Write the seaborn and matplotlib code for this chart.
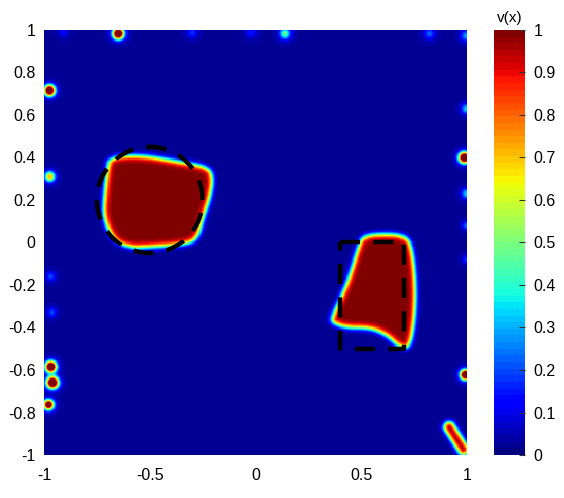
import numpy as np
import matplotlib
matplotlib.use("Agg")
import matplotlib.pyplot as plt
from matplotlib.path import Path
import seaborn as sns

# blob outlines (data coords)
blob1_x = [-0.688, -0.546, -0.357, -0.229, -0.201, -0.215, -0.248, -0.277,
           -0.357, -0.499, -0.593, -0.674, -0.721, -0.712, -0.702]
blob1_y = [0.402, 0.412, 0.379, 0.355, 0.308, 0.214, 0.120, 0.012,
           -0.012, -0.021, -0.026, 0.012, 0.120, 0.247, 0.341]
blob2_x = [0.508, 0.574, 0.716, 0.745, 0.759, 0.754, 0.730, 0.683,
           0.622, 0.541, 0.433, 0.366, 0.362, 0.400, 0.447, 0.485]
blob2_y = [0.026, 0.040, 0.035, -0.049, -0.209, -0.365, -0.496, -0.492,
           -0.435, -0.402, -0.402, -0.379, -0.351, -0.271, -0.162, -0.035]

# small spots near the border: x, y, size, peak
spot_x = [-0.65, 0.14, -0.30, -0.02, 0.825, 1.00, -0.91,
          -0.970, -0.962, -0.981, 0.995, 0.99, 1.00, 1.00, 1.00, 1.00,
          -0.976, -0.975, -0.97, -0.965]
spot_y = [0.985, 0.985, 0.99, 0.99, 0.985, 0.975, 0.99,
          -0.586, -0.661, -0.765, -0.624, 0.40, 0.63, 0.23, 0.08, -0.08,
          0.717, 0.31, -0.16, -0.33]
spot_r = [0.026, 0.026, 0.025, 0.025, 0.026, 0.026, 0.022,
          0.026, 0.028, 0.024, 0.024, 0.026, 0.024, 0.024, 0.02, 0.02,
          0.025, 0.024, 0.022, 0.022]
spot_peak = [1.4, 0.45, 0.15, 0.12, 0.2, 0.26, 0.1,
             1.4, 1.4, 1.25, 1.4, 1.4, 0.3, 0.3, 0.2, 0.15,
             1.35, 0.7, 0.17, 0.17]
# elongated blob, bottom right corner
streak_x = [0.918, 0.985]
streak_y = [-0.872, -0.975]

# reference shapes
circle_c = (-0.5, 0.2)
circle_r = 0.25
rect_x = [0.4, 0.7]
rect_y = [-0.5, 0.0]

n = 400
g = np.linspace(-1, 1, n)
X, Y = np.meshgrid(g, g[::-1])


def chaikin(xs, ys, it=3):
    p = np.column_stack([xs, ys])
    for _ in range(it):
        q = np.roll(p, -1, axis=0)
        p = np.column_stack([0.75 * p + 0.25 * q, 0.25 * p + 0.75 * q]).reshape(-1, 2)
    return p


def seg_dist(px, py, a, b):
    ab = b - a
    t = ((px - a[0]) * ab[0] + (py - a[1]) * ab[1]) / (ab @ ab)
    t = np.clip(t, 0, 1)
    return np.hypot(px - a[0] - t * ab[0], py - a[1] - t * ab[1])


def poly_field(xs, ys, w=0.018):
    p = chaikin(xs, ys)
    inside = Path(p).contains_points(np.column_stack([X.ravel(), Y.ravel()])).reshape(X.shape)
    d = np.full(X.shape, np.inf)
    for i in range(len(p)):
        d = np.minimum(d, seg_dist(X, Y, p[i], p[(i + 1) % len(p)]))
    sd = np.where(inside, d, -d)
    return 0.5 * (1 + np.tanh(sd / w))


v = np.full(X.shape, 0.03)
v = np.maximum(v, poly_field(blob1_x, blob1_y))
v = np.maximum(v, poly_field(blob2_x, blob2_y))
ds = seg_dist(X, Y, np.array([streak_x[0], streak_y[0]]), np.array([streak_x[1], streak_y[1]]))
v = np.maximum(v, 0.5 * (1 + np.tanh((0.024 - ds) / 0.016)))
for sx, sy, sr, sp in zip(spot_x, spot_y, spot_r, spot_peak):
    v = v + sp * np.exp(-((X - sx) ** 2 + (Y - sy) ** 2) / sr ** 2)
v = np.clip(v, 0, 1)

plt.rcParams["font.family"] = ["Liberation Sans", "DejaVu Sans"]

fig = plt.figure(figsize=(5.64, 4.98), dpi=100)
ax = fig.add_axes([0.078, 0.0863, 0.75, 0.8537])
cax = fig.add_axes([0.876, 0.0863, 0.055, 0.8537])

sns.heatmap(v, ax=ax, cmap=plt.get_cmap("jet", 64), vmin=0, vmax=1, cbar_ax=cax,
            xticklabels=False, yticklabels=False)


def hx(x):
    return (np.asarray(x) + 1) / 2 * n


def hy(y):
    return (1 - np.asarray(y)) / 2 * n


xt = [-1, -0.5, 0, 0.5, 1]
yt = [-1, -0.8, -0.6, -0.4, -0.2, 0, 0.2, 0.4, 0.6, 0.8, 1]
ax.set_xticks(hx(xt))
ax.set_xticklabels(["%g" % t for t in xt], rotation=0)
ax.set_yticks(hy(yt))
ax.set_yticklabels(["%g" % t for t in yt], rotation=0)
ax.tick_params(length=0, labelsize=11.5)
ax.tick_params(axis="x", pad=9)
ax.tick_params(axis="y", pad=6)

th = np.linspace(0, 2 * np.pi, 200)
ax.plot(hx(circle_c[0] + circle_r * np.cos(th)), hy(circle_c[1] + circle_r * np.sin(th)),
        color="black", lw=3.2, dashes=(4.5, 3))
rx = [rect_x[0], rect_x[1], rect_x[1], rect_x[0], rect_x[0]]
ry = [rect_y[1], rect_y[1], rect_y[0], rect_y[0], rect_y[1]]
ax.plot(hx(rx), hy(ry), color="black", lw=3.2, dashes=(4.5, 3))

cticks = np.round(np.arange(0, 1.01, 0.1), 1)
cax.set_yticks(cticks)
cax.set_yticklabels(["%g" % t for t in cticks])
cax.tick_params(labelsize=11.5, length=4, direction="in", color="#333333", pad=6)
cax.set_title("v(x)", fontsize=11, pad=6)

fig.savefig("out.png", dpi=100)
